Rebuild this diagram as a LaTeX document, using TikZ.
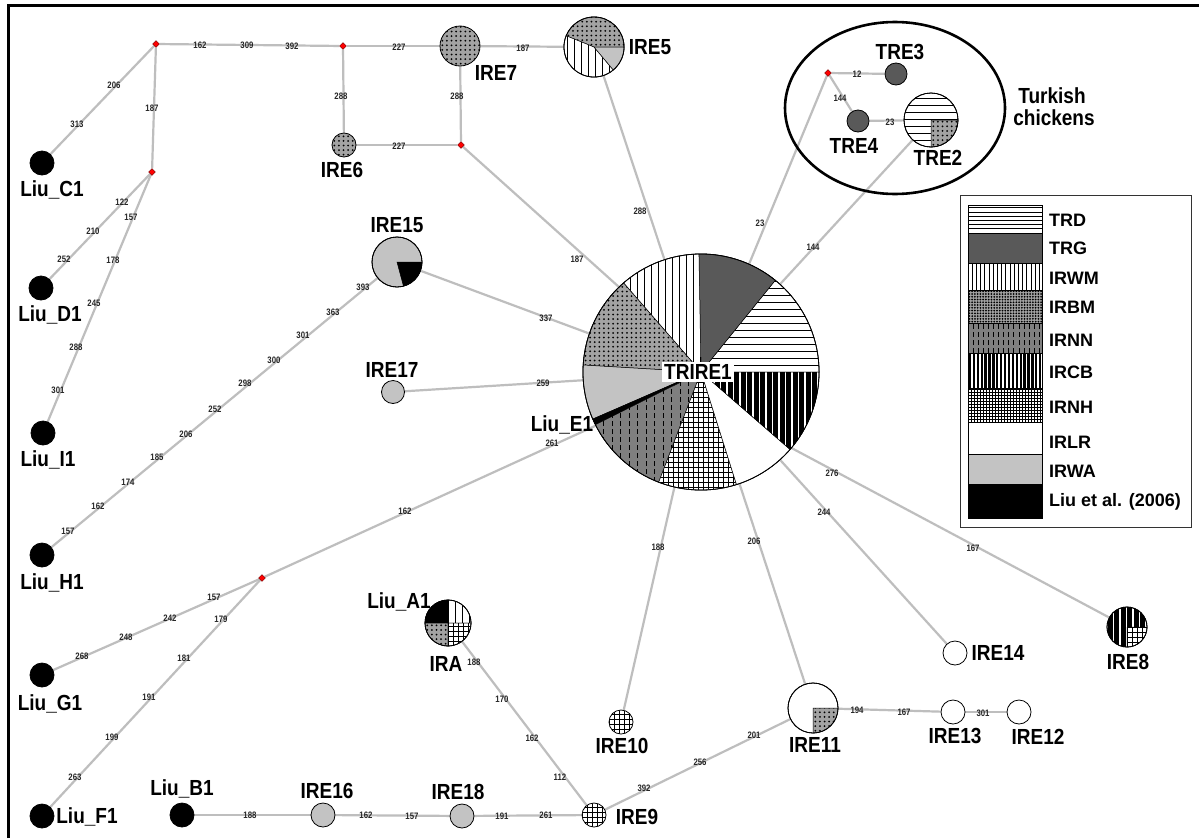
\documentclass[tikz,border=0pt]{standalone}
\usepackage{fontspec}
\usepackage{graphicx}
\setmainfont{Liberation Sans}
\usetikzlibrary{shapes.geometric}
\definecolor{lgray}{HTML}{BEBEBE}
\definecolor{trg}{HTML}{595959}
\definecolor{irbm}{HTML}{A3A3A3}
\definecolor{irnn}{HTML}{7F7F7F}
\definecolor{irwa}{HTML}{C3C3C3}
\pgfdeclarelayer{back}
\pgfdeclarelayer{bg}
\pgfsetlayers{back,bg,main}
\def\psc{1}
\newcommand\PPsize{%
  \pgfpointdiff{\pgfpointanchor{path picture bounding box}{south west}}{\pgfpointanchor{path picture bounding box}{north east}}%
  \pgfgetlastxy{\PPw}{\PPh}}
\newcommand\PPvlines[4]{\PPsize\pgfmathsetmacro\PPs{#1*\psc}\pgfmathtruncatemacro\PPn{\PPw/\PPs+1}%
  \foreach \i in {0,...,\PPn}{\draw[#3, line width=#2pt, #4] ([xshift={\i*\PPs*1pt}]path picture bounding box.south west) -- ([xshift={\i*\PPs*1pt}]path picture bounding box.north west);}}
\newcommand\PPhlines[4]{\PPsize\pgfmathsetmacro\PPs{#1*\psc}\pgfmathtruncatemacro\PPn{\PPh/\PPs+1}%
  \foreach \i in {0,...,\PPn}{\draw[#3, line width=#2pt, #4] ([yshift={\i*\PPs*1pt}]path picture bounding box.south west) -- ([yshift={\i*\PPs*1pt}]path picture bounding box.south east);}}
\newcommand\PPdots[2]{\PPsize\pgfmathsetmacro\PPs{#1*\psc}\pgfmathtruncatemacro\PPnx{\PPw/\PPs}\pgfmathtruncatemacro\PPny{\PPh/\PPs}%
  \foreach \i in {0,...,\PPnx}{\foreach \j in {0,...,\PPny}{\fill[black] ([xshift={(\i+0.5)*\PPs*1pt}, yshift={(\j+0.5)*\PPs*1pt}]path picture bounding box.south west) circle[radius=#2pt];}}}
\newcommand\slice[5]{\path[#5, draw=black, line width=0.5pt] (#1.center) -- ++(#2:#4pt) arc[start angle=#2, end angle=#3, radius=#4pt] -- cycle;}
\newcommand\rim[2]{\draw[line width=0.8pt] (#1.center) circle[radius=#2pt];}
\newcommand\NL[1]{\scalebox{1}[1.15]{#1}}
\newcommand\EL[1]{\scalebox{1}[1.2]{#1}}
\tikzset{
  edge/.style={draw=lgray, line width=2.2pt},
  elab/.style={font=\fontsize{7.8}{8}\selectfont\bfseries, text=black!85, inner sep=0pt},
  nlab/.style={font=\fontsize{19}{20}\selectfont\bfseries, inner sep=0pt},
  leglab/.style={font=\fontsize{18}{19}\selectfont\bfseries, inner sep=0pt, anchor=west},
  jn/.style={diamond, fill=red, draw=red!40!black, line width=0.4pt, minimum size=7pt, inner sep=0pt},
  hap/.style={circle, draw=black, line width=0.8pt, inner sep=0pt, minimum size=#1},
  swatch/.style={rectangle, draw=black, line width=0.8pt, inner sep=0pt, minimum width=74pt, minimum height=#1},
  pTRD/.style={fill=white, path picture={\PPhlines{7}{0.9}{black}{}}},
  pTRG/.style={fill=trg},
  pIRWM/.style={fill=white, path picture={\PPvlines{7}{0.9}{black}{}}},
  pIRBM/.style={fill=irbm, path picture={\PPdots{4.6}{1.0}}},
  pIRNN/.style={fill=irnn, path picture={\PPvlines{8.5}{0.9}{black}{dash pattern=on 5pt off 3pt}}},
  pIRCB/.style={fill=black, path picture={\PPvlines{6.5}{1.6}{white}{}}},
  pIRNH/.style={fill=white, path picture={\PPvlines{5}{0.8}{black}{}\PPhlines{5}{0.8}{black}{}}},
  pIRLR/.style={fill=white},
  pIRWA/.style={fill=irwa},
  pLIU/.style={fill=black},
}
\begin{document}
\begin{tikzpicture}[x=1pt,y=-1pt]
\useasboundingbox (0,0) rectangle (1199,838);
\begin{pgfonlayer}{back}
\fill[white] (0,0) rectangle (1199,838);
\end{pgfonlayer}
\draw[line width=3.5pt] (8.5,838) -- (8.5,5.5) -- (1199,5.5);

% Turkish ellipse
\node[ellipse, draw, line width=2.6pt, minimum width=220pt, minimum height=172pt, inner sep=0pt] (turk) at (895,108) {};

% junctions
\node[jn] (j1) at (156,44) {};
\node[jn] (j2) at (343,46) {};
\node[jn] (j3) at (461,145) {};
\node[jn] (j4) at (152,172) {};
\node[jn] (j5) at (828,73) {};
\node[jn] (j6) at (262,578) {};

% haplotypes
\node[hap=236pt, fill=white] (trire) at (701,372) {};
\slice{trire}{0}{51}{118}{pTRD}
\slice{trire}{51}{91}{118}{pTRG}
\slice{trire}{91}{131}{118}{pIRWM}
\slice{trire}{131}{176.6}{118}{pIRBM}
\slice{trire}{176.6}{203.5}{118}{pIRWA}
\slice{trire}{203.5}{206.5}{118}{pLIU}
\slice{trire}{206.5}{249}{118}{pIRNN}
\slice{trire}{249}{287.5}{118}{pIRNH}
\slice{trire}{287.5}{319}{118}{pIRLR}
\slice{trire}{319}{360}{118}{pIRCB}
\rim{trire}{118}

\node[hap=60pt, fill=white] (ire5) at (594,47) {};
\slice{ire5}{0}{158}{30}{pIRBM}
\slice{ire5}{158}{310}{30}{pIRWM}
\slice{ire5}{310}{360}{30}{pIRWA}
\rim{ire5}{30}

\node[hap=40pt, pIRBM] (ire7) at (460,46) {};
\node[hap=24pt, pIRBM] (ire6) at (344,145) {};

\node[hap=50pt, pIRWA] (ire15) at (397,262) {};
\slice{ire15}{-75}{0}{25}{pLIU}
\rim{ire15}{25}
\node[hap=23pt, pIRWA] (ire17) at (393,392) {};

\node[hap=22pt, pTRG] (tre3) at (896,74) {};
\node[hap=22pt, pTRG] (tre4) at (858,121) {};
\node[hap=54pt, pTRD] (tre2) at (931,120) {};
\slice{tre2}{-90}{0}{27}{pIRBM}
\rim{tre2}{27}

\node[hap=46pt, fill=white] (ira) at (448,623) {};
\slice{ira}{0}{90}{23}{pIRWM}
\slice{ira}{90}{180}{23}{pLIU}
\slice{ira}{180}{270}{23}{pIRBM}
\slice{ira}{270}{360}{23}{pIRNH}
\rim{ira}{23}

\node[hap=50pt, fill=white] (ire11) at (813,708) {};
\slice{ire11}{-90}{0}{25}{pIRBM}
\rim{ire11}{25}

\node[hap=40pt, pIRCB] (ire8) at (1127,627) {};
\slice{ire8}{-90}{0}{20}{pIRNH}
\rim{ire8}{20}

\node[hap=24pt, pIRNH] (ire10) at (621,722) {};
\node[hap=24pt, pIRNH] (ire9) at (594,815) {};
\node[hap=24pt, fill=white] (ire13) at (953,712) {};
\node[hap=24pt, fill=white] (ire12) at (1019,712) {};
\node[hap=24pt, fill=white] (ire14) at (955,653) {};
\node[hap=24pt, pIRWA] (ire16) at (323,815) {};
\node[hap=24pt, pIRWA] (ire18) at (462,816) {};

\node[hap=24pt, pLIU] (liuc1) at (42,163) {};
\node[hap=24pt, pLIU] (liud1) at (41,288) {};
\node[hap=24pt, pLIU] (liui1) at (43,433) {};
\node[hap=24pt, pLIU] (liuh1) at (42,555) {};
\node[hap=24pt, pLIU] (liug1) at (42,675) {};
\node[hap=24pt, pLIU] (liuf1) at (42,816) {};
\node[hap=24pt, pLIU] (liub1) at (182,815) {};

% connectors
\begin{pgfonlayer}{bg}
\draw[edge] (j1) -- (j2);
\draw[edge] (j2) -- (ire7);
\draw[edge] (ire7) -- (ire5);
\draw[edge] (j2) -- (ire6);
\draw[edge] (ire7) -- (j3);
\draw[edge] (ire6) -- (j3);
\draw[edge] (j1) -- (liuc1);
\draw[edge] (j1) -- (j4);
\draw[edge] (j4) -- (liud1);
\draw[edge] (j4) -- (liui1);
\draw[edge] (j3) -- (trire.134);
\draw[edge] (ire5) -- (trire.108.6);
\draw[edge] (j5) -- (tre3);
\draw[edge] (j5) -- (tre4);
\draw[edge] (tre4) -- (tre2);
\draw[edge] (j5) -- (trire.66.7);
\draw[edge] (tre2) -- (trire.48);
\draw[edge] (ire15) -- (trire.161);
\draw[edge] (ire17) -- (trire.184);
\draw[edge] (ire15) -- (liuh1);
\draw[edge] (j6) -- (trire.207);
\draw[edge] (j6) -- (liug1);
\draw[edge] (j6) -- (liuf1);
\draw[edge] (trire.-103) -- (ire10);
\draw[edge] (trire.-71.7) -- (ire11);
\draw[edge] (trire.-48) -- (ire14);
\draw[edge] (trire.-40) -- (ire8);
\draw[edge] (liub1) -- (ire16);
\draw[edge] (ire16) -- (ire18);
\draw[edge] (ire18) -- (ire9);
\draw[edge] (ira) -- (ire9);
\draw[edge] (ire9) -- (ire11);
\draw[edge] (ire11) -- (ire13);
\draw[edge] (ire13) -- (ire12);
\end{pgfonlayer}

% edge labels
\foreach \t/\x/\y [count=\i] in {162/200/45, 309/247/45, 392/292/46, 227/399/47, 187/523/48, 288/341/96, 288/457/96, 227/399/146, 206/114/85, 313/77/124, 187/152/108, 122/122/202, 210/93/231, 252/64/259, 157/131/217, 178/113/260, 245/94/303, 288/76/347, 301/58/390, 393/363/287, 363/333/312, 301/303/335, 300/274/360, 298/245/383, 252/215/409, 206/186/434, 185/157/457, 174/128/482, 162/98/506, 157/68/531, 337/546/318, 259/543/383, 187/577/259, 288/640/211, 23/760/223, 144/813/247, 12/857/74, 144/840/98, 23/890/122, 261/552/443, 162/405/511, 157/214/597, 242/170/618, 248/126/637, 268/82/656, 179/221/619, 181/184/658, 191/149/697, 199/112/737, 263/75/777, 188/250/815, 162/366/815, 157/412/816, 191/502/816, 261/546/815, 188/474/662, 170/502/699, 162/532/738, 112/560/777, 392/644/788, 256/700/762, 201/754/735, 188/658/547, 206/754/541, 244/824/512, 276/832/473, 167/973/548, 194/857/710, 167/904/712, 301/983/713}
  \node[elab] (el\i) at (\x,\y) {\EL{\t}};

% node labels
\node[nlab, fill=white, inner sep=2pt] (t-trire) at (698,372) {\NL{TRIRE1}};
\node[nlab] (t-liue1) at (562,425) {\NL{Liu\_E1}};
\node[nlab] (t-liuc1) at (52,190) {\NL{Liu\_C1}};
\node[nlab] (t-liud1) at (50,315) {\NL{Liu\_D1}};
\node[nlab] (t-liui1) at (48,460) {\NL{Liu\_I1}};
\node[nlab] (t-liuh1) at (52,583) {\NL{Liu\_H1}};
\node[nlab] (t-liug1) at (50,704) {\NL{Liu\_G1}};
\node[nlab] (t-liuf1) at (87,817) {\NL{Liu\_F1}};
\node[nlab] (t-liub1) at (182,789) {\NL{Liu\_B1}};
\node[nlab] (t-liua1) at (399,602) {\NL{Liu\_A1}};
\node[nlab] (t-ira) at (446,664) {\NL{IRA}};
\node[nlab] (t-ire16) at (327,791) {\NL{IRE16}};
\node[nlab] (t-ire18) at (458,792) {\NL{IRE18}};
\node[nlab] (t-ire9) at (637,817) {\NL{IRE9}};
\node[nlab] (t-ire10) at (622,746) {\NL{IRE10}};
\node[nlab] (t-ire11) at (815,745) {\NL{IRE11}};
\node[nlab] (t-ire13) at (955,736) {\NL{IRE13}};
\node[nlab] (t-ire12) at (1038,737) {\NL{IRE12}};
\node[nlab] (t-ire14) at (998,653) {\NL{IRE14}};
\node[nlab] (t-ire8) at (1128,662) {\NL{IRE8}};
\node[nlab] (t-ire6) at (342,170) {\NL{IRE6}};
\node[nlab] (t-ire7) at (496,73) {\NL{IRE7}};
\node[nlab] (t-ire5) at (650,47) {\NL{IRE5}};
\node[nlab] (t-ire15) at (397,225) {\NL{IRE15}};
\node[nlab] (t-ire17) at (392,370) {\NL{IRE17}};
\node[nlab] (t-tre3) at (900,52) {\NL{TRE3}};
\node[nlab] (t-tre4) at (854,146) {\NL{TRE4}};
\node[nlab] (t-tre2) at (938,158) {\NL{TRE2}};
\node[nlab] (t-turk1) at (1052,96) {\NL{Turkish}};
\node[nlab] (t-turk2) at (1054,118) {\NL{chickens}};

% legend
\node[draw=black!80, line width=0.8pt, minimum width=231pt, minimum height=332pt, inner sep=0pt] (legend) at (1075.5,361) {};
\begin{scope}
\def\psc{0.6}
\node[swatch=28pt, pTRD] (sw1) at (1005,219) {};
\node[swatch=30pt, pTRG] (sw2) at (1005,248) {};
\node[swatch=27pt, pIRWM] (sw3) at (1005,276.5) {};
\node[swatch=33pt, pIRBM] (sw4) at (1005,306.5) {};
\node[swatch=30pt, pIRNN] (sw5) at (1005,338) {};
\node[swatch=35pt, pIRCB] (sw6) at (1005,370.5) {};
\node[swatch=34pt, pIRNH] (sw7) at (1005,405) {};
\node[swatch=32pt, pIRLR] (sw8) at (1005,438) {};
\node[swatch=30pt, pIRWA] (sw9) at (1005,469) {};
\node[swatch=34pt, pLIU] (sw10) at (1005,501) {};
\end{scope}
\node[leglab] (lg1) at (1049,220) {TRD};
\node[leglab] (lg2) at (1049,248) {TRG};
\node[leglab] (lg3) at (1049,278) {IRWM};
\node[leglab] (lg4) at (1049,307) {IRBM};
\node[leglab] (lg5) at (1049,340) {IRNN};
\node[leglab] (lg6) at (1049,372) {IRCB};
\node[leglab] (lg7) at (1049,407) {IRNH};
\node[leglab] (lg8) at (1049,442) {IRLR};
\node[leglab] (lg9) at (1049,471) {IRWA};
\node[leglab] (lg10) at (1049,502) {Liu et al. (2006)};
\end{tikzpicture}
\end{document}
